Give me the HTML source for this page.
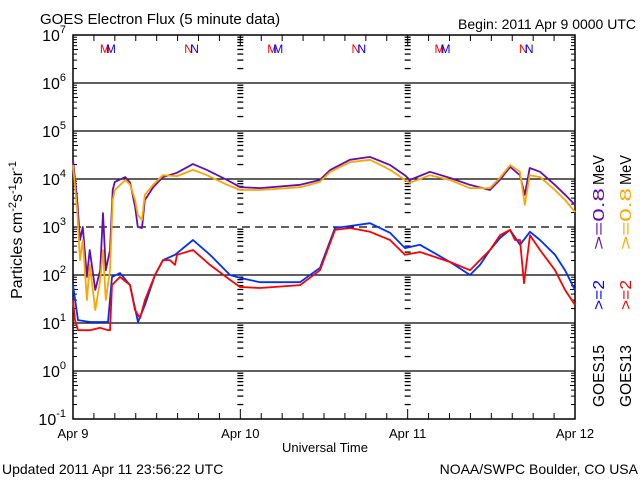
<!DOCTYPE html>
<html><head><meta charset="utf-8">
<style>
body{margin:0;background:#fff;}
svg{display:block;font-family:"Liberation Sans",sans-serif;}
</style></head>
<body>
<svg id="chart" width="640" height="480" viewBox="0 0 640 480" xmlns="http://www.w3.org/2000/svg">
<text x="40" y="24" font-size="15">GOES Electron Flux (5 minute data)</text>
<text x="636" y="29" font-size="14" text-anchor="end">Begin: 2011 Apr 9 0000 UTC</text>
<text transform="translate(22,230) rotate(-90)" font-size="16" text-anchor="middle">Particles cm<tspan dy="-6" font-size="11">-2</tspan><tspan dy="6">s</tspan><tspan dy="-6" font-size="11">-1</tspan><tspan dy="6">sr</tspan><tspan dy="-6" font-size="11">-1</tspan></text>
<text x="325" y="452" font-size="13" text-anchor="middle">Universal Time</text>
<text x="2" y="474" font-size="14">Updated 2011 Apr 11 23:56:22 UTC</text>
<text x="638" y="474" font-size="14" text-anchor="end">NOAA/SWPC Boulder, CO USA</text>
<g id="axes"></g>
<g id="series"></g>
<g id="legend">
 <g transform="translate(604,0) rotate(-90)" font-size="16">
  <text x="-407" y="0" textLength="62" lengthAdjust="spacingAndGlyphs" fill="#000">GOES15</text>
  <text x="-310" y="0" textLength="30" lengthAdjust="spacingAndGlyphs" fill="#0000ff">&gt;=2</text>
  <text x="-250" y="0" textLength="62" lengthAdjust="spacingAndGlyphs" fill="#6010b0">&gt;=0.8</text>
  <text x="-185" y="0" textLength="30" lengthAdjust="spacingAndGlyphs" fill="#000">MeV</text>
 </g>
 <g transform="translate(631,0) rotate(-90)" font-size="16">
  <text x="-407" y="0" textLength="62" lengthAdjust="spacingAndGlyphs" fill="#000">GOES13</text>
  <text x="-310" y="0" textLength="30" lengthAdjust="spacingAndGlyphs" fill="#ff0000">&gt;=2</text>
  <text x="-250" y="0" textLength="62" lengthAdjust="spacingAndGlyphs" fill="#ffa500">&gt;=0.8</text>
  <text x="-185" y="0" textLength="30" lengthAdjust="spacingAndGlyphs" fill="#000">MeV</text>
 </g>
</g>
</svg>
<script>
const dayLabels=["Apr 9","Apr 10","Apr 11","Apr 12"];
const decades=[-1,0,1,2,3,4,5,6,7];
const markerTimes=[5,17,29,41,53,65];
const markerLetters=["M","N","M","N","M","N"];
const purpleT=[0,0.6,1.0,1.4,2.0,2.4,3.2,3.9,4.3,4.7,5.3,5.7,6.0,7.5,8.2,8.9,9.3,9.9,10.3,11.5,12.9,14.9,17.2,19.2,22.1,24.0,26.8,32.6,35.4,36.9,39.7,42.6,45.5,47.6,48.3,51.2,54.1,56.9,59.8,61.2,62.7,64.1,64.8,65.5,67.0,69.1,70.6,72];
const purpleV=[4.40,3.56,2.73,3.00,1.96,2.52,1.69,2.10,3.29,2.10,2.52,3.77,3.94,4.04,3.92,3.42,3.00,2.98,3.56,3.83,4.04,4.13,4.31,4.19,3.98,3.83,3.81,3.88,3.98,4.19,4.40,4.46,4.29,4.08,3.98,4.15,4.02,3.88,3.77,3.98,4.25,4.08,3.67,4.23,4.15,3.88,3.67,3.46];
const orangeV=[4.29,3.35,2.31,2.73,1.48,2.21,1.27,1.90,2.52,1.48,2.10,3.56,3.77,3.98,3.88,3.56,3.25,3.15,3.67,3.88,4.08,4.06,4.19,4.08,3.88,3.77,3.77,3.83,3.94,4.15,4.35,4.40,4.19,3.98,3.92,4.08,3.98,3.81,3.81,4.02,4.29,4.15,3.46,4.08,4.04,3.77,3.56,3.31];
const redT=[0,0.29,0.72,2.44,3.87,5.02,5.31,5.59,6.74,8.18,8.89,9.61,10.33,11.76,12.91,13.91,14.63,14.92,17.21,19.65,22.52,23.95,26.82,32.56,35.43,37.58,39.73,42.6,45.47,47.62,49.77,54.07,56.94,59.81,61.25,62.68,63.4,64.11,64.69,65.55,66.98,69.13,70.57,71.99];
const redV=[1.48,1.06,0.85,0.85,0.90,0.85,0.85,1.79,1.96,1.79,1.27,1.10,1.48,2.0,2.31,2.31,2.21,2.42,2.52,2.21,1.90,1.75,1.73,1.79,2.10,2.94,2.98,2.90,2.73,2.42,2.48,2.27,2.10,2.52,2.83,2.94,2.73,2.73,1.83,2.83,2.52,2.10,1.69,1.38];
const blueT=[0,0.72,2.44,5.02,5.59,6.74,8.18,9.32,10.33,11.76,12.91,14.63,17.21,19.65,22.52,23.95,26.82,32.56,35.43,37.58,39.73,42.6,45.47,47.62,49.77,54.07,56.94,58.38,59.81,61.25,62.68,64.11,65.55,66.98,69.13,70.57,71.99];
const blueV=[1.79,1.06,1.02,1.02,1.96,2.04,1.79,1.02,1.38,2.0,2.31,2.42,2.73,2.42,2.0,1.94,1.85,1.85,2.15,2.98,3.02,3.08,2.88,2.56,2.63,2.27,2.0,2.21,2.52,2.77,2.94,2.63,2.90,2.73,2.42,2.10,1.69];

const X0=73,X1=575,Y0=35,Y1=419,HOURS=72,LMIN=-1,LMAX=7;
const xs=h=>X0+h*(X1-X0)/HOURS;
const ys=v=>Y1-(v-LMIN)*(Y1-Y0)/(LMAX-LMIN);
const NS="http://www.w3.org/2000/svg";
function mk(tag,attrs,parent){const e=document.createElementNS(NS,tag);for(const k in attrs)e.setAttribute(k,attrs[k]);parent.appendChild(e);return e;}
const ax=document.getElementById('axes');
const fr=mk('rect',{x:X0,y:Y0,width:X1-X0,height:Y1-Y0,fill:'none',stroke:'#000','stroke-width':1.5},ax);


decades.forEach(d=>{
  const y=ys(d);
  if(d>LMIN&&d<LMAX){
    const l=mk('line',{x1:X0,x2:X1,y1:y,y2:y,stroke:'#000','stroke-width':1.3},ax);
    if(d===3)l.setAttribute('stroke-dasharray','8,5');
    
    
  }
  const t=mk('text',{x:66,y:y+6,'font-size':16,'text-anchor':'end'},ax);
  
  
  t.textContent='10';
  const s=mk('tspan',{dy:-8,'font-size':11},t);s.textContent=String(d);
  if(d<LMAX){
    for(let m=2;m<=9;m++){
      const yy=ys(d+Math.log10(m));
      [X0,X1,xs(24),xs(48)].forEach((xx,i)=>{
        const len=(i<2)?(m===5?5:4):5;
        if(i===0)mk('line',{x1:xx,x2:xx+len,y1:yy,y2:yy,stroke:'#000'},ax);
        else if(i===1)mk('line',{x1:xx,x2:xx-len,y1:yy,y2:yy,stroke:'#000'},ax);
        else mk('line',{x1:xx-3,x2:xx+3,y1:yy,y2:yy,stroke:'#000','stroke-width':1.3},ax);
      });
    }
  }
});
for(let h=0;h<=HOURS;h+=3){
  const x=xs(h);const len=h%24===0?10:6;
  mk('line',{x1:x,x2:x,y1:Y1,y2:Y1-len,stroke:'#000'},ax);
  mk('line',{x1:x,x2:x,y1:Y0,y2:Y0+len,stroke:'#000'},ax);
}
dayLabels.forEach((lab,i)=>{
  const t=mk('text',{x:xs(i*24),y:438,'font-size':13,'text-anchor':'middle'},ax);
  
  
  t.textContent=lab;
});
markerTimes.forEach((h,i)=>{
  const x=xs(h);
  const a=mk('text',{x:x-3,y:53,'font-size':12,fill:'#ff0000','text-anchor':'middle'},ax);
  
  
  a.textContent=markerLetters[i];
  const b=mk('text',{x:x+3,y:53,'font-size':12,fill:'#0000ff','text-anchor':'middle'},ax);
  
  
  b.textContent=markerLetters[i];
});
const sg=document.getElementById('series');
function line(T,V,color,name){
  const d=T.map((t,i)=>(i?'L':'M')+xs(t).toFixed(1)+','+ys(V[i]).toFixed(1)).join(' ');
  const p=mk('path',{d:d,fill:'none',stroke:color,'stroke-width':1.8,'stroke-linejoin':'round'},sg);
  
  
}
line(purpleT,purpleV,'#6010b0','series-goes15-0.8mev');
line(purpleT,orangeV,'#ffa500','series-goes13-0.8mev');
line(blueT,blueV,'#0030ff','series-goes15-2mev');
line(redT,redV,'#ff0000','series-goes13-2mev');
</script>
</body></html>
